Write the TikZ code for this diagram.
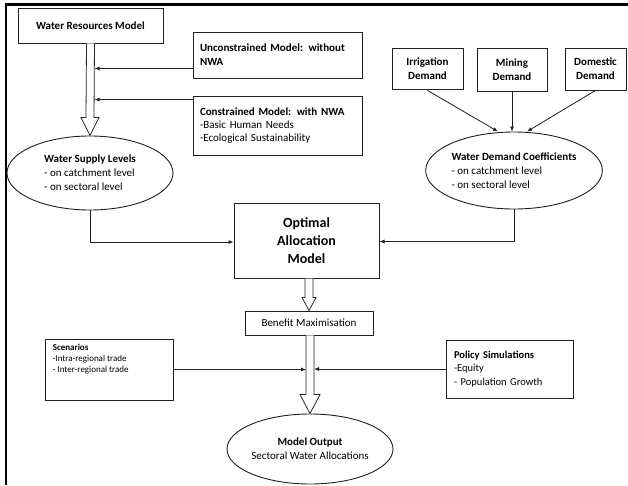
\documentclass[tikz,border=0pt]{standalone}
\usepackage{fontspec}
\setmainfont{Carlito}
\usetikzlibrary{shapes.geometric,arrows.meta,calc}
\begin{document}
\begin{tikzpicture}[x=1pt,y=-1pt,
  box/.style={draw=gray!25!black, line width=0.9, fill=white, inner sep=0, align=center},
  ell/.style={ellipse, draw=gray!25!black, line width=0.9, fill=white, inner sep=0, align=left},
  conn/.style={draw=gray!25!black, line width=0.8, -{Latex[length=5pt,width=4pt]}},
  hollow/.style={draw=gray!30!black, line width=0.8, fill=white, line join=miter},
  fb/.style={font=\fontsize{11}{14}\selectfont},
  txt/.style={inner sep=0, align=left}
]
\useasboundingbox (0,0) rectangle (628,485);
\draw[line width=2.5, black] (6,485) -- (6,4.5) -- (628,4.5);

% top-left
\node[box, minimum width=145, minimum height=35, fb] (wrm) at (90.5,25.5) {\textbf{Water Resources Model}};
\node[box, minimum width=169, minimum height=46, text width=155, align=left, fb] (unc) at (277.5,55)
  {\textbf{Unconstrained Model: without}\\\textbf{NWA}};
\node[box, minimum width=169, minimum height=59, text width=155, align=left, font=\fontsize{11}{13}\selectfont] (con) at (277.5,125.5)
  {\textbf{Constrained Model: with NWA}\\-Basic Human Needs\\-Ecological Sustainability};
\node[ell, minimum width=166, minimum height=74, fb] (ws) at (90,173)
  {\textbf{Water Supply Levels}\\- on catchment level\\- on sectoral level};

% demand
\node[box, minimum width=71, minimum height=41, fb] (irr) at (427.5,68.5) {\textbf{Irrigation}\\\textbf{Demand}};
\node[box, minimum width=70, minimum height=43, fb] (min) at (512,69.5) {\textbf{Mining}\\\textbf{Demand}};
\node[box, minimum width=61, minimum height=42, fb] (dom) at (595.5,69) {\textbf{Domestic}\\\textbf{Demand}};
\node[ell, minimum width=168, minimum height=77, fb] (wdc) at (514,170.5)
  {\textbf{Water Demand Coefficients}\\- on catchment level\\- on sectoral level};

% centre
\node[box, minimum width=145, minimum height=75, line width=1.0, font=\fontsize{14}{18}\selectfont] (opt) at (306.5,240.5)
  {\textbf{Optimal}\\\textbf{Allocation}\\\textbf{Model}};
\node[box, minimum width=128, minimum height=24, fb] (ben) at (309,323) {Benefit Maximisation};
\node[box, minimum width=127, minimum height=58, text width=111, align=left, font=\fontsize{10.5}{13.5}\selectfont] (pol) at (509.5,369)
  {\textbf{Policy Simulations}\\-Equity\\- Population Growth};
\node[box, minimum width=128, minimum height=61] (sc) at (109,369.5) {};
\node[txt, anchor=north west, font=\fontsize{9}{11}\selectfont] (sct) at ($(sc.north west)+(8,5)$)
  {\textbf{Scenarios}\\-Intra-regional trade\\- Inter-regional trade};
\node[ell, align=center, minimum width=166, minimum height=70, fb] (out) at (310,449)
  {\textbf{Model Output}\\Sectoral Water Allocations};

% hollow arrows
\draw[hollow] ($(wrm.south)+(-4,0)$) -- ($(ws.north)+(-4,-18)$) -- ($(ws.north)+(-9,-18)$) -- (ws.north)
  -- ($(ws.north)+(9,-18)$) -- ($(ws.north)+(4,-18)$) -- ($(wrm.south)+(4,0)$);
\coordinate (bt) at (ben.north);
\coordinate (ob) at (opt.south -| bt);
\draw[hollow] ($(ob)+(-4,0)$) -- ($(bt)+(-4,-13)$) -- ($(bt)+(-7,-13)$) -- (bt)
  -- ($(bt)+(7,-13)$) -- ($(bt)+(4,-13)$) -- ($(ob)+(4,0)$);
\coordinate (ot) at (out.north);
\coordinate (bb) at (ben.south -| ot);
\draw[hollow] ($(bb)+(-4,0)$) -- ($(ot)+(-4,-19)$) -- ($(ot)+(-10,-19)$) -- (ot)
  -- ($(ot)+(10,-19)$) -- ($(ot)+(4,-19)$) -- ($(bb)+(4,0)$);

% side arrows to top shaft
\coordinate (wr) at ($(wrm.south)+(4,0)$);
\coordinate (ua) at ($(unc.south west)+(0,-10)$);
\coordinate (ca) at ($(con.north west)+(0,4)$);
\draw[conn] (ua) -- (ua -| wr);
\draw[conn] (ca) -- (ca -| wr);

% side arrows to bottom shaft
\coordinate (sl) at ($(bb)+(-4,0)$);
\coordinate (sr) at ($(bb)+(4,0)$);
\draw[conn] (sc.east) -- (sc.east -| sl);
\draw[conn] (pol.west) -- (pol.west -| sr);

% demand arrows
\draw[conn] ($(irr.south)+(0,1)$) -- ($(wdc.north)+(-16,0)$);
\draw[conn] (min.south) -- (wdc.north -| min.south);
\draw[conn] (dom.south) -- ($(wdc.north)+(13,0)$);

% ellipses to optimal
\draw[conn] (ws.south) |- ($(opt.west)+(0,1.5)$);
\draw[conn] (wdc.south) |- ($(opt.east)+(0,1)$);
\end{tikzpicture}
\end{document}
